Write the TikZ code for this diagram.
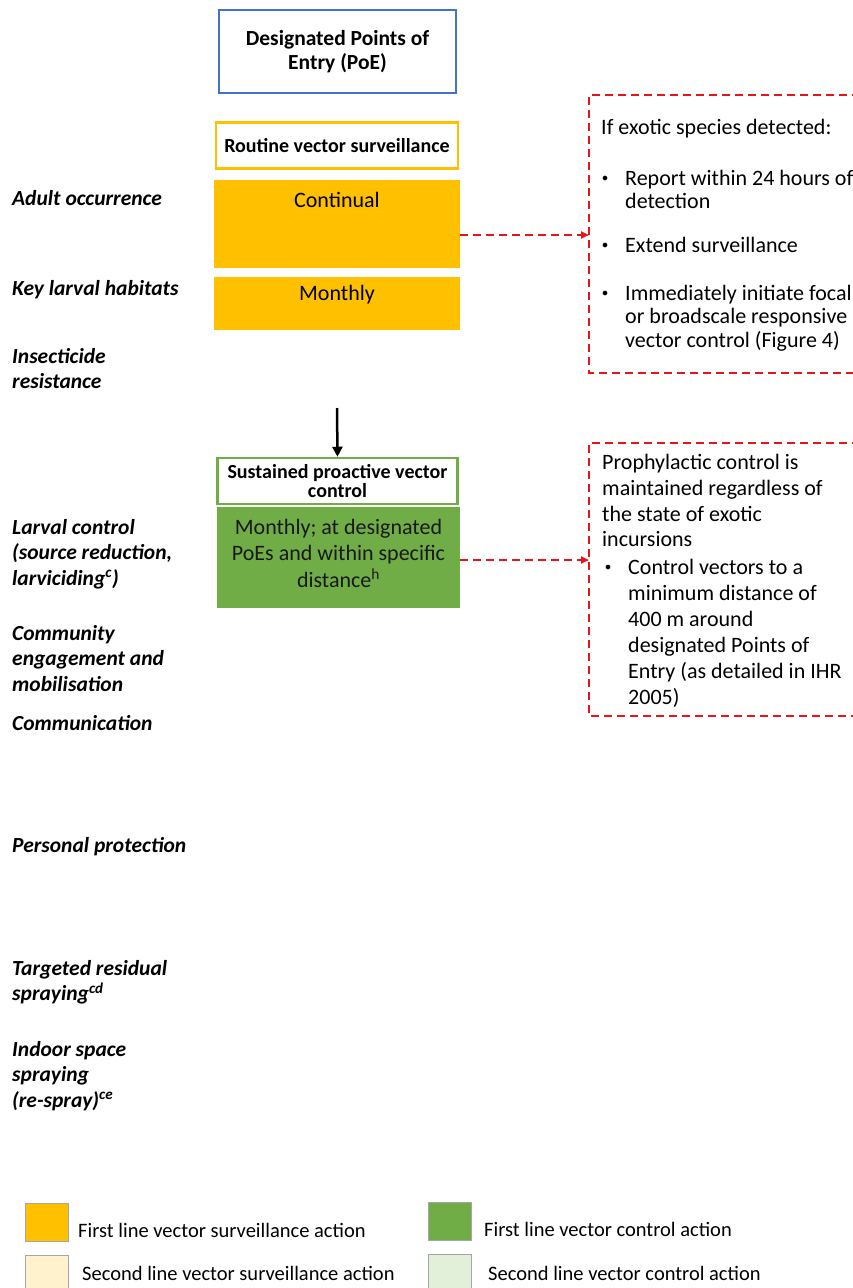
\documentclass[tikz,border=0pt]{standalone}
\usepackage{fontspec}
\setmainfont{Carlito}
\usetikzlibrary{arrows.meta}

\definecolor{survorange}{HTML}{FFC000}
\definecolor{survlight}{HTML}{FFF2CC}
\definecolor{ctrlgreen}{HTML}{70AD47}
\definecolor{ctrllight}{HTML}{E2F0D9}
\definecolor{poeblue}{HTML}{4472C4}
\definecolor{dashred}{HTML}{E8141B}

\newcommand{\fs}[2]{\fontsize{#1}{#2}\selectfont}

\begin{document}
\begin{tikzpicture}[x=1pt,y=-1pt,
  rowlabel/.style={anchor=north west, align=left, inner sep=0pt,
    font=\fs{21.5}{25.5}\bfseries\itshape},
  headbox/.style={draw, line width=2.5pt, fill=white, align=center,
    inner sep=0pt, font=\fs{20}{15}\bfseries},
  fillbox/.style={inner sep=0pt},
  boxtext/.style={anchor=north, align=center, inner sep=0pt, font=\fs{22}{26.5}},
  notetext/.style={anchor=north west, align=left, inner sep=0pt, font=\fs{22}{23.5}},
  dotmark/.style={inner sep=0pt, font=\fs{12}{12}},
  redline/.style={dashred, line width=2.5pt, dash pattern=on 8pt off 5pt},
  keybox/.style={draw=gray!70, line width=1pt, minimum width=43, minimum height=38,
    inner sep=0pt},
  keytext/.style={anchor=west, inner sep=0pt, font=\fs{20.5}{22}}]
\useasboundingbox (0,0) rectangle (853,1288);

%%%%%%%%%%%%%%%%%%%%%%%%%%%%
\node[headbox, draw=poeblue, line width=1.5pt, minimum width=237, minimum height=83,
  font=\fs{21.5}{24}\bfseries] (poe) at (337.5,51.5) {Designated Points of\\ Entry (PoE)};

\node[headbox, draw=survorange, minimum width=242, minimum height=46] (routine)
  at (337,145.5) {Routine vector surveillance};
\node[fillbox, fill=survorange, minimum width=246, minimum height=88, anchor=north]
  (cont) at (337,180) {};
\node[boxtext] (conttxt) at ([yshift=-12]cont.north) {Continual};
\node[fillbox, fill=survorange, minimum width=246, minimum height=53, anchor=north]
  (month) at (337,277) {};
\node[boxtext] (monthtxt) at ([yshift=-8]month.north) {Monthly};

%%%%%%%%%%%%%%%%%%%%%%%%%%%%
\coordinate (down) at (337,408);
\node[headbox, draw=ctrlgreen, minimum width=240, minimum height=46] (sustain)
  at (337.5,481) {Sustained proactive vector\\ control};
\draw[-{Triangle[length=10pt,width=10pt]}, line width=2.5pt] (down) -- (sustain.north);
\node[fillbox, fill=ctrlgreen, minimum width=243, minimum height=101, anchor=north]
  (larvctrl) at (338.5,507) {};
\node[boxtext, text=black!90] (larvtxt) at ([yshift=-12]larvctrl.north)
  {Monthly; at designated\\ PoEs and within specific\\ distance\textsuperscript{h}};

%%%%%%%%%%%%%%%%%%%%%%%%%%%%
\draw[redline] (860,95) -- (589,95) -- (589,373) -- (860,373);
\coordinate (note1) at (589,235);
\node[notetext] (detect) at (601,119) {If exotic species detected:};
\node[dotmark] (b1) at (605,179) {$\bullet$};
\node[notetext] (report) at (625,170) {Report within 24 hours of\\ detection};
\node[dotmark] (b2) at (605,246) {$\bullet$};
\node[notetext] (extend) at (625,237) {Extend surveillance};
\node[dotmark] (b3) at (605,294) {$\bullet$};
\node[notetext] (initiate) at (625,285)
  {Immediately initiate focal\\ or broadscale responsive\\ vector control (Figure 4)};
\draw[redline, -{Triangle[length=8pt,width=7pt]}] (cont.east |- note1) -- (note1);

\draw[redline] (860,443) -- (589,443) -- (589,716) -- (860,716);
\coordinate (note2) at (589,560);
\node[notetext, font=\fs{22}{25.8}] (prophyl) at (602,454)
  {Prophylactic control is\\ maintained regardless of\\ the state of exotic\\ incursions};
\node[dotmark] (b4) at (608,568) {$\bullet$};
\node[notetext, font=\fs{22}{26}] (vectors) at (628,559)
  {Control vectors to a\\ minimum distance of\\ 400 m around\\ designated Points of\\
   Entry (as detailed in IHR\\ 2005)};
\draw[redline, -{Triangle[length=8pt,width=7pt]}] (larvctrl.east |- note2) -- (note2);

%%%%%%%%%%%%%%%%%%%%%%%%%%%%
\node[rowlabel] (adult) at (12,190) {Adult occurrence};
\node[rowlabel] (habitat) at (12,280) {Key larval habitats};
\node[rowlabel] (resist) at (12,348) {Insecticide\\ resistance};
\node[rowlabel] (larval) at (12,519) {Larval control\\ (source reduction,\\
  larviciding\textsuperscript{c})};
\node[rowlabel] (commun) at (12,625) {Community\\ engagement and\\ mobilisation};
\node[rowlabel] (comms) at (12,715) {Communication};
\node[rowlabel] (personal) at (12,837) {Personal protection};
\node[rowlabel] (trs) at (12,960) {Targeted residual\\ spraying\textsuperscript{cd}};
\node[rowlabel] (indoor) at (12,1041) {Indoor space\\ spraying\\
  (re-spray)\textsuperscript{ce}};

%%%%%%%%%%%%%%%%%%%%%%%%%%%%
\node[keybox, fill=survorange, anchor=north west] (key1) at (25,1203) {};
\node[keytext] (key1txt) at (78,1230) {First line vector surveillance action};
\node[keybox, fill=survlight, anchor=north west] (key2) at (25,1255) {};
\node[keytext] (key2txt) at (82,1273) {Second line vector surveillance action};
\node[keybox, fill=ctrlgreen, anchor=north west] (key3) at (428,1202) {};
\node[keytext] (key3txt) at (484,1229) {First line vector control action};
\node[keybox, fill=ctrllight, anchor=north west] (key4) at (428,1254) {};
\node[keytext] (key4txt) at (488,1273) {Second line vector control action};
\end{tikzpicture}
\end{document}
